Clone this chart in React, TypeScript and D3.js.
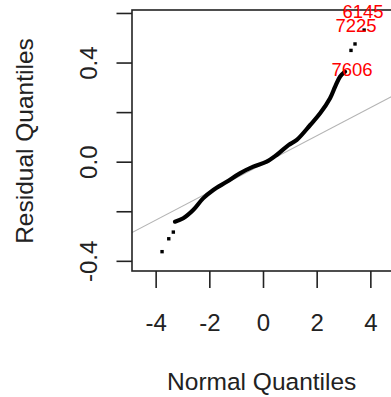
import React from "react";
import * as d3 from "d3";

// Sparse lower-tail points (theoretical, residual)
const lowTailX = [-3.78, -3.53, -3.36];
const lowTailY = [-0.361, -0.309, -0.282];

// Dense central body of the Q-Q points
const bodyX = [-3.3, -2.99, -2.62, -2.25, -1.87, -1.37, -0.88, -0.38, 0.12, 0.49, 0.93, 1.24, 1.74, 2.11, 2.48, 2.67, 2.85, 3.04];
const bodyY = [-0.24, -0.226, -0.193, -0.146, -0.112, -0.079, -0.045, -0.018, 0.002, 0.029, 0.069, 0.09, 0.15, 0.197, 0.258, 0.305, 0.345, 0.365];

// Sparse upper-tail points
const highTailX = [3.26, 3.41, 3.75];
const highTailY = [0.451, 0.477, 0.533];

// Labelled observations (label anchor in data units)
const labelIds = ["6145", "7225", "7606"];
const labelX = [3.71, 3.45, 3.3];
const labelY = [0.61, 0.553, 0.376];

// Reference line: intercept, slope
const refIntercept = -0.006;
const refSlope = 0.0567;

const xTicks = [-4, -2, 0, 2, 4];
const yTicks = [-0.4, -0.2, 0, 0.2, 0.4, 0.6];
const yTickLabels = ["-0.4", "", "0.0", "", "0.4", ""];

const xDomain = [-4.9, 4.9];
const yDomain = [-0.439, 0.614];

export default function App() {
  const W = 391, H = 397;
  const left = 132, right = 395, top = 10, bottom = 271;
  const x = d3.scaleLinear().domain(xDomain).range([left, right]);
  const y = d3.scaleLinear().domain(yDomain).range([bottom, top]);
  const font = "'Liberation Sans', Arial, sans-serif";

  const body = bodyX.map((v, i) => [v, bodyY[i]] as [number, number]);
  const bodyPath = d3.line<[number, number]>().x(d => x(d[0])).y(d => y(d[1])).curve(d3.curveCatmullRom)(body) || "";
  const tails = [
    ...lowTailX.map((v, i) => [v, lowTailY[i]]),
    ...highTailX.map((v, i) => [v, highTailY[i]]),
  ];

  return (
    <svg width={W} height={H} style={{ position: "absolute", left: 0, top: 0, background: "#fff" }}>
      <defs>
        <clipPath id="plotclip">
          <rect x={left} y={top} width={right - left} height={bottom - top} />
        </clipPath>
      </defs>
      <line
        clipPath="url(#plotclip)"
        x1={x(xDomain[0])} y1={y(refIntercept + refSlope * xDomain[0])}
        x2={x(xDomain[1])} y2={y(refIntercept + refSlope * xDomain[1])}
        stroke="#b4b4b4" strokeWidth={1.1}
      />
      <path d={bodyPath} fill="none" stroke="#000" strokeWidth={4.2} strokeLinecap="round" strokeLinejoin="round" />
      {tails.map((d, i) => (
        <rect key={i} x={x(d[0]) - 1.7} y={y(d[1]) - 1.7} width={3.4} height={3.4} fill="#000" />
      ))}
      <rect x={left} y={top} width={right - left} height={bottom - top} fill="none" stroke="#222" strokeWidth={1.6} />
      {yTicks.map((t, i) => (
        <g key={"y" + i}>
          <line x1={left} x2={left - 15.5} y1={y(t)} y2={y(t)} stroke="#222" strokeWidth={1.6} />
          {yTickLabels[i] && (
            <text transform={`translate(96.5,${y(t)}) rotate(-90)`} textAnchor="middle" fontFamily={font} fontSize={24} fill="#222">
              {yTickLabels[i]}
            </text>
          )}
        </g>
      ))}
      {xTicks.map((t, i) => (
        <g key={"x" + i}>
          <line x1={x(t)} x2={x(t)} y1={bottom} y2={bottom + 17} stroke="#222" strokeWidth={1.6} />
          <text x={x(t)} y={330.5} textAnchor="middle" fontFamily={font} fontSize={24} fill="#222">
            {t}
          </text>
        </g>
      ))}
      <text x={261.7} y={390} textAnchor="middle" fontFamily={font} fontSize={24.5} fill="#222">Normal Quantiles</text>
      <text transform="translate(33,141) rotate(-90)" textAnchor="middle" fontFamily={font} fontSize={24.5} fill="#222">Residual Quantiles</text>
      {labelIds.map((id, i) => (
        <text key={id} x={x(labelX[i])} y={y(labelY[i])} dy="0.36em" textAnchor="middle" fontFamily={font} fontSize={18.5} fill="#ff0000">
          {id}
        </text>
      ))}
    </svg>
  );
}
